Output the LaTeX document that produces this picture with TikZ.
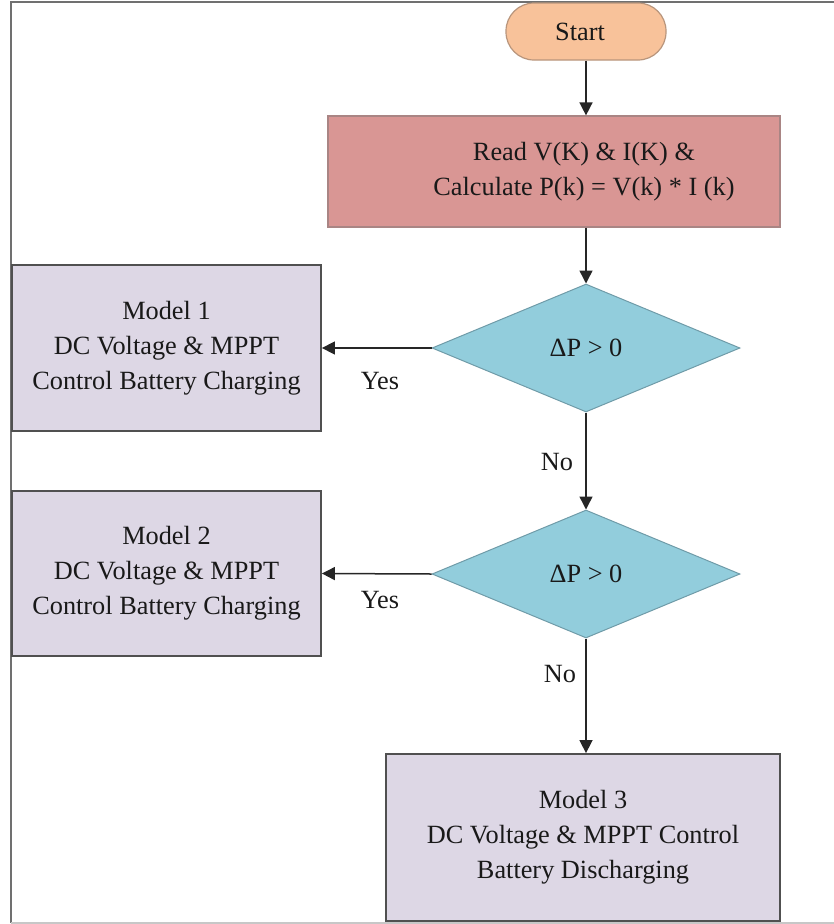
\documentclass[tikz,border=0pt]{standalone}
\usepackage{fontspec}
\setmainfont{Liberation Serif}
\usetikzlibrary{shapes.geometric,arrows.meta}

\definecolor{startfill}{HTML}{F8C29A}
\definecolor{startline}{HTML}{B8957C}
\definecolor{readfill}{HTML}{D99694}
\definecolor{readline}{HTML}{A98584}
\definecolor{decfill}{HTML}{92CDDC}
\definecolor{decline}{HTML}{6F9BA8}
\definecolor{modfill}{HTML}{DDD7E5}
\definecolor{modline}{HTML}{505050}
\definecolor{framecol}{HTML}{707070}

\tikzset{
  base/.style={font=\fontsize{26.3}{35}\selectfont, align=center, inner sep=0pt, text=black!90},
  readbox/.style={base, rectangle, fill=readfill, draw=readline, line width=1.2pt,
    minimum width=452pt, minimum height=111pt},
  decbox/.style={base, diamond, fill=decfill, draw=decline, line width=1pt,
    minimum width=308pt, minimum height=128pt},
  modbox/.style={base, rectangle, fill=modfill, draw=modline, line width=1.8pt},
  flow/.style={draw=black!85, line width=1.5pt, -{Triangle[length=13pt,width=13pt]}},
  lbl/.style={font=\fontsize{26.3}{30}\selectfont, inner sep=0pt, text=black!90},
}

\begin{document}
\begin{tikzpicture}[x=1pt, y=-1pt]
  \useasboundingbox (0,0) rectangle (834,924);

  % page frame
  \draw[framecol, line width=1.6pt] (11,923) -- (11,2) -- (834,2);
  \draw[black!22, line width=1.2pt] (11,923) -- (834,923);

  % nodes
  \node[base, fill=startfill, draw=startline, line width=1.2pt, rounded corners=28pt,
        minimum width=160pt, minimum height=57pt] (start) at (586,31.5)
        {Start\hspace*{12pt}};
  \node[readbox] (read) at (554,171.5)
    {\hspace*{60pt}\parbox{330pt}{\centering Read V(K) \& I(K) \&\\Calculate P(k) = V(k) * I (k)}};
  \node[decbox] (dec1) at (586,348) {ΔP > 0};
  \node[decbox] (dec2) at (586,574) {ΔP > 0};
  \node[modbox, minimum width=309pt, minimum height=166pt] (m1) at (166.5,348)
    {Model 1\\DC Voltage \& MPPT\\Control Battery Charging};
  \node[modbox, minimum width=309pt, minimum height=165pt] (m2) at (166.5,573.5)
    {Model 2\\DC Voltage \& MPPT\\Control Battery Charging};
  \node[modbox, minimum width=394pt, minimum height=167pt] (m3) at (583,837.5)
    {\raisebox{-6pt}{\parbox{380pt}{\centering Model 3\\DC Voltage \& MPPT Control\\Battery Discharging}}};

  % connectors
  \draw[flow] (start.south) -- (start.south |- read.north);
  \draw[flow] (read.south -| dec1.north) -- (dec1.north);
  \draw[flow] (dec1.west) -- (m1.east);
  \draw[flow] (dec1.south) -- (dec2.north);
  \draw[flow] (dec2.west) -- (m2.east);
  \draw[flow] (dec2.south) -- (m3.north -| dec2.south);

  % branch labels
  \node[lbl] (y1) at (380,381) {Yes};
  \node[lbl] (n1) at (557,462) {No};
  \node[lbl] (y2) at (380,600) {Yes};
  \node[lbl] (n2) at (560,674) {No};
\end{tikzpicture}
\end{document}
